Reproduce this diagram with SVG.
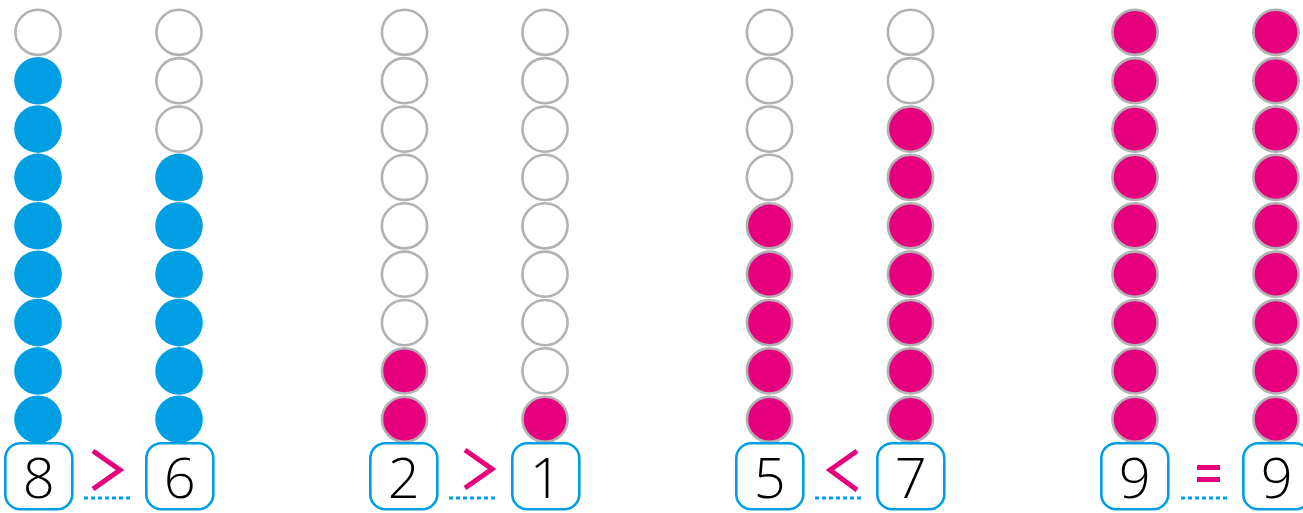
<svg xmlns="http://www.w3.org/2000/svg" xmlns:xlink="http://www.w3.org/1999/xlink" width="1303" height="513" viewBox="0 0 1303 513">
<style>
.e{fill:#fff;stroke:#b2b2b2;stroke-width:2.6}
.b{fill:#009fe3}
.p{fill:#e6007e;stroke:#b2b2b2;stroke-width:2.6}
.box{fill:#fff;stroke:#009fe3;stroke-width:2.6}
.num{font-family:"Open Sans","Noto Sans",sans-serif;font-weight:300;font-size:56px;fill:#000;text-anchor:middle}
.dot{stroke:#009fe3;stroke-width:3;stroke-dasharray:4 3;fill:none}
.sym{stroke:#e6007e;stroke-width:5;fill:none;stroke-linejoin:miter}
</style>
<defs>
<circle id="ce" class="e" r="22.6"/>
<circle id="cb" class="b" r="23.8"/>
<circle id="cp" class="p" r="22.6"/>
</defs>
<rect width="1303" height="513" fill="#fff"/>
<g id="col1">
<use href="#ce" x="38" y="32.3"/>
<use href="#cb" x="38" y="80.7"/>
<use href="#cb" x="38" y="129.1"/>
<use href="#cb" x="38" y="177.4"/>
<use href="#cb" x="38" y="225.8"/>
<use href="#cb" x="38" y="274.2"/>
<use href="#cb" x="38" y="322.6"/>
<use href="#cb" x="38" y="370.9"/>
<use href="#cb" x="38" y="419.3"/>
</g>
<g id="col2">
<use href="#ce" x="179" y="32.3"/>
<use href="#ce" x="179" y="80.7"/>
<use href="#ce" x="179" y="129.1"/>
<use href="#cb" x="179" y="177.4"/>
<use href="#cb" x="179" y="225.8"/>
<use href="#cb" x="179" y="274.2"/>
<use href="#cb" x="179" y="322.6"/>
<use href="#cb" x="179" y="370.9"/>
<use href="#cb" x="179" y="419.3"/>
</g>
<g id="col3">
<use href="#ce" x="404.5" y="32.3"/>
<use href="#ce" x="404.5" y="80.7"/>
<use href="#ce" x="404.5" y="129.1"/>
<use href="#ce" x="404.5" y="177.4"/>
<use href="#ce" x="404.5" y="225.8"/>
<use href="#ce" x="404.5" y="274.2"/>
<use href="#ce" x="404.5" y="322.6"/>
<use href="#cp" x="404.5" y="370.9"/>
<use href="#cp" x="404.5" y="419.3"/>
</g>
<g id="col4">
<use href="#ce" x="545" y="32.3"/>
<use href="#ce" x="545" y="80.7"/>
<use href="#ce" x="545" y="129.1"/>
<use href="#ce" x="545" y="177.4"/>
<use href="#ce" x="545" y="225.8"/>
<use href="#ce" x="545" y="274.2"/>
<use href="#ce" x="545" y="322.6"/>
<use href="#ce" x="545" y="370.9"/>
<use href="#cp" x="545" y="419.3"/>
</g>
<g id="col5">
<use href="#ce" x="769.5" y="32.3"/>
<use href="#ce" x="769.5" y="80.7"/>
<use href="#ce" x="769.5" y="129.1"/>
<use href="#ce" x="769.5" y="177.4"/>
<use href="#cp" x="769.5" y="225.8"/>
<use href="#cp" x="769.5" y="274.2"/>
<use href="#cp" x="769.5" y="322.6"/>
<use href="#cp" x="769.5" y="370.9"/>
<use href="#cp" x="769.5" y="419.3"/>
</g>
<g id="col6">
<use href="#ce" x="910.5" y="32.3"/>
<use href="#ce" x="910.5" y="80.7"/>
<use href="#cp" x="910.5" y="129.1"/>
<use href="#cp" x="910.5" y="177.4"/>
<use href="#cp" x="910.5" y="225.8"/>
<use href="#cp" x="910.5" y="274.2"/>
<use href="#cp" x="910.5" y="322.6"/>
<use href="#cp" x="910.5" y="370.9"/>
<use href="#cp" x="910.5" y="419.3"/>
</g>
<g id="col7">
<use href="#cp" x="1135" y="32.3"/>
<use href="#cp" x="1135" y="80.7"/>
<use href="#cp" x="1135" y="129.1"/>
<use href="#cp" x="1135" y="177.4"/>
<use href="#cp" x="1135" y="225.8"/>
<use href="#cp" x="1135" y="274.2"/>
<use href="#cp" x="1135" y="322.6"/>
<use href="#cp" x="1135" y="370.9"/>
<use href="#cp" x="1135" y="419.3"/>
</g>
<g id="col8">
<use href="#cp" x="1276" y="32.3"/>
<use href="#cp" x="1276" y="80.7"/>
<use href="#cp" x="1276" y="129.1"/>
<use href="#cp" x="1276" y="177.4"/>
<use href="#cp" x="1276" y="225.8"/>
<use href="#cp" x="1276" y="274.2"/>
<use href="#cp" x="1276" y="322.6"/>
<use href="#cp" x="1276" y="370.9"/>
<use href="#cp" x="1276" y="419.3"/>
</g>
<g id="box1"><rect class="box" x="5.3" y="443.3" width="67" height="66" rx="15"/><text class="num" x="38.8" y="498">8</text></g>
<g id="box2"><rect class="box" x="146.3" y="443.3" width="67" height="66" rx="15"/><text class="num" x="179.8" y="498">6</text></g>
<g id="box3"><rect class="box" x="370.3" y="443.3" width="67" height="66" rx="15"/><text class="num" x="403.8" y="498">2</text></g>
<g id="box4"><rect class="box" x="512.3" y="443.3" width="67" height="66" rx="15"/><text class="num" x="545.8" y="498">1</text></g>
<g id="box5"><rect class="box" x="736.3" y="443.3" width="67" height="66" rx="15"/><text class="num" x="769.8" y="498">5</text></g>
<g id="box6"><rect class="box" x="877.3" y="443.3" width="67" height="66" rx="15"/><text class="num" x="910.8" y="498">7</text></g>
<g id="box7"><rect class="box" x="1101.3" y="443.3" width="67" height="66" rx="15"/><text class="num" x="1134.8" y="498">9</text></g>
<g id="box8"><rect class="box" x="1243.3" y="443.3" width="67" height="66" rx="15"/><text class="num" x="1276.8" y="498">9</text></g>
<g id="signs">
<polyline class="sym" points="93,451 120,470 93,489"/>
<polyline class="sym" points="465,450 492,469 465,488"/>
<polyline class="sym" points="857,451 830,470 857,490"/>
<rect x="1197" y="465" width="23" height="5" fill="#e6007e"/>
<rect x="1197" y="477" width="23" height="5" fill="#e6007e"/>
</g>
<g id="connectors">
<line class="dot" x1="84" y1="498" x2="132" y2="498"/>
<line class="dot" x1="449" y1="498" x2="497" y2="498"/>
<line class="dot" x1="815" y1="498" x2="863" y2="498"/>
<line class="dot" x1="1181" y1="498" x2="1229" y2="498"/>
</g>
</svg>
